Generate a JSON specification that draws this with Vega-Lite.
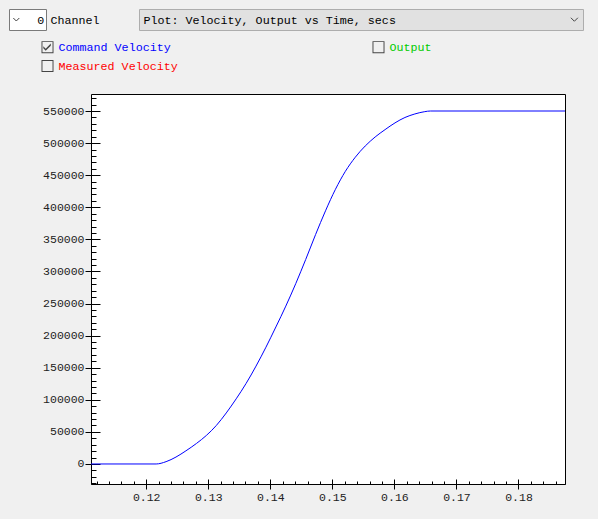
{
  "$schema": "https://vega.github.io/schema/vega-lite/v6.json",
  "background": "#f0f0f0",
  "padding": {"left": 8, "top": 8, "right": 16, "bottom": 16},
  "columns": 1,
  "spacing": 9,
  "resolve": {"scale": {"color": "independent"}, "legend": {"color": "independent"}},
  "config": {
    "view": {"stroke": null},
    "font": "Liberation Mono",
    "axis": {"labelFont": "Liberation Mono", "labelFontSize": 11.5, "labelColor": "#222222", "domainColor": "#000000", "tickColor": "#000000", "domainWidth": 1, "tickWidth": 1, "grid": false}
  },
  "datasets": {
    "velocity": [
      {"t": 0.1111, "v": 0, "series": "Command Velocity"},
      {"t": 0.1216, "v": 0, "series": "Command Velocity"},
      {"t": 0.1232, "v": 3600, "series": "Command Velocity"},
      {"t": 0.1248, "v": 10800, "series": "Command Velocity"},
      {"t": 0.1264, "v": 20500, "series": "Command Velocity"},
      {"t": 0.1281, "v": 32000, "series": "Command Velocity"},
      {"t": 0.1297, "v": 44500, "series": "Command Velocity"},
      {"t": 0.1313, "v": 60000, "series": "Command Velocity"},
      {"t": 0.1329, "v": 79500, "series": "Command Velocity"},
      {"t": 0.1345, "v": 101500, "series": "Command Velocity"},
      {"t": 0.1361, "v": 125500, "series": "Command Velocity"},
      {"t": 0.1377, "v": 152500, "series": "Command Velocity"},
      {"t": 0.1393, "v": 182000, "series": "Command Velocity"},
      {"t": 0.1409, "v": 213500, "series": "Command Velocity"},
      {"t": 0.1425, "v": 246000, "series": "Command Velocity"},
      {"t": 0.1441, "v": 281000, "series": "Command Velocity"},
      {"t": 0.1457, "v": 318500, "series": "Command Velocity"},
      {"t": 0.1473, "v": 357500, "series": "Command Velocity"},
      {"t": 0.1489, "v": 394500, "series": "Command Velocity"},
      {"t": 0.1505, "v": 428000, "series": "Command Velocity"},
      {"t": 0.1521, "v": 456000, "series": "Command Velocity"},
      {"t": 0.1537, "v": 478000, "series": "Command Velocity"},
      {"t": 0.1553, "v": 495500, "series": "Command Velocity"},
      {"t": 0.1569, "v": 509500, "series": "Command Velocity"},
      {"t": 0.1585, "v": 521000, "series": "Command Velocity"},
      {"t": 0.1601, "v": 531500, "series": "Command Velocity"},
      {"t": 0.1617, "v": 539900, "series": "Command Velocity"},
      {"t": 0.1633, "v": 545400, "series": "Command Velocity"},
      {"t": 0.1649, "v": 549000, "series": "Command Velocity"},
      {"t": 0.1658, "v": 550000, "series": "Command Velocity"},
      {"t": 0.1875, "v": 550000, "series": "Command Velocity"}
    ]
  },
  "concat": [
    {
      "spacing": 38,
      "hconcat": [
        {
          "spacing": 3,
          "hconcat": [
            {
              "width": 37,
              "height": 21,
              "view": {"stroke": "#7a7a7a", "fill": "#ffffff"},
              "data": {"values": [{"part": "arrow", "text": ""}, {"part": "value", "text": "0"}]},
              "encoding": {
                "x": {"field": "part", "type": "nominal", "scale": {"type": "point", "domain": ["arrow", "value"], "padding": 0.255, "align": 0.584}, "axis": null}
              },
              "layer": [
                {
                  "transform": [{"filter": "datum.part === 'value'"}],
                  "mark": {"type": "text", "font": "Liberation Mono", "fontSize": 11.7, "color": "#000000"},
                  "encoding": {"text": {"field": "text"}}
                },
                {
                  "transform": [{"filter": "datum.part === 'arrow'"}],
                  "mark": {"type": "point", "shape": "M-1,-0.5L0,0.5L1,-0.5", "size": 36, "filled": false, "color": "#444444", "strokeWidth": 1, "opacity": 1}
                }
              ]
            },
            {
              "width": 50,
              "height": 21,
              "data": {"values": [{"text": "Channel"}]},
              "mark": {"type": "text", "font": "Liberation Mono", "fontSize": 11.7, "color": "#000000"},
              "encoding": {"text": {"field": "text"}}
            }
          ]
        },
        {
          "width": 444,
          "height": 21,
          "view": {"stroke": "#adadad", "fill": "#e1e1e1"},
          "data": {"values": [{"part": "label", "text": "Plot: Velocity, Output vs Time, secs"}, {"part": "arrow", "text": ""}]},
          "encoding": {
            "x": {"field": "part", "type": "nominal", "scale": {"type": "point", "domain": ["label", "arrow"], "padding": 0.0151, "align": 0.338}, "axis": null}
          },
          "layer": [
            {
              "transform": [{"filter": "datum.part === 'label'"}],
              "mark": {"type": "text", "align": "left", "font": "Liberation Mono", "fontSize": 11.7, "color": "#000000"},
              "encoding": {"text": {"field": "text"}}
            },
            {
              "transform": [{"filter": "datum.part === 'arrow'"}],
              "mark": {"type": "point", "shape": "M-1,-0.5L0,0.5L1,-0.5", "size": 49, "filled": false, "color": "#444444", "strokeWidth": 1, "opacity": 1}
            }
          ]
        }
      ]
    },
    {
      "spacing": 0,
      "bounds": "flush",
      "resolve": {"scale": {"color": "independent"}, "legend": {"color": "independent"}},
      "hconcat": [
        {
          "width": 82,
          "height": 390,
          "data": {"name": "velocity"},
          "mark": {"type": "point", "opacity": 0},
          "encoding": {
            "y": {"field": "v", "type": "quantitative", "scale": {"domain": [-31200, 576500], "nice": false, "zero": false},
              "axis": {"orient": "left", "offset": -82, "domain": false, "values": [0, 50000, 100000, 150000, 200000, 250000, 300000, 350000, 400000, 450000, 500000, 550000], "format": "d", "tickSize": 6, "labelPadding": 1, "labelFlush": false, "labelOverlap": false, "title": null}}
          }
        },
        {
          "width": 474,
          "height": 390,
          "view": {"stroke": "#000000", "fill": "#ffffff"},
          "data": {"name": "velocity"},
          "resolve": {"axis": {"x": "independent", "y": "independent"}},
          "layer": [
            {
              "mark": {"type": "line", "strokeWidth": 1, "interpolate": "monotone"},
              "encoding": {
                "x": {"field": "t", "type": "quantitative", "scale": {"domain": [0.1111, 0.1875], "nice": false, "zero": false},
                  "axis": {"orient": "bottom", "values": [0.12, 0.13, 0.14, 0.15, 0.16, 0.17, 0.18], "format": ".2f", "tickSize": 5, "labelPadding": 2, "labelFlush": false, "labelOverlap": false, "title": null}},
                "y": {"field": "v", "type": "quantitative", "scale": {"domain": [-31200, 576500], "nice": false, "zero": false}, "axis": null},
                "color": {"field": "series", "type": "nominal",
                  "scale": {"domain": ["Command Velocity", "Output", "Measured Velocity"], "range": ["#0000ff", "#00cc00", "#ff0000"]},
                  "legend": {
                    "title": null, "orient": "none", "legendX": -49.5, "legendY": -53, "columns": 2, "direction": "horizontal",
                    "columnPadding": 194, "rowPadding": 6, "padding": 0, "gridAlign": "each",
                    "labelFont": "Liberation Mono", "labelFontSize": 11.7, "labelOffset": 5, "labelLimit": 0, "symbolSize": 144,
                    "encode": {
                      "symbols": {"update": {
                        "shape": {"signal": "datum.value === 'Command Velocity' ? 'M-1,-1H1V1H-1Z M-0.84,-0.84V0.84H0.84V-0.84Z M-0.7,-0.15L-0.3,0.25L0.55,-0.6L0.55,-0.25L-0.3,0.6L-0.7,0.2Z' : 'M-1,-1H1V1H-1Z M-0.84,-0.84V0.84H0.84V-0.84Z'"},
                        "fill": {"value": "#444444"}, "stroke": {"value": "transparent"}, "strokeWidth": {"value": 0}, "opacity": {"value": 1}, "fillOpacity": {"value": 1}
                      }},
                      "labels": {"update": {"fill": {"signal": "datum.value === 'Command Velocity' ? '#0000ff' : datum.value === 'Output' ? '#00cc00' : '#ff0000'"}}}
                    }
                  }}
              }
            },
            {
              "mark": {"type": "line", "opacity": 0},
              "encoding": {
                "x": {"field": "t", "type": "quantitative",
                  "axis": {"orient": "bottom", "values": [0.112, 0.114, 0.116, 0.118, 0.122, 0.124, 0.126, 0.128, 0.132, 0.134, 0.136, 0.138, 0.142, 0.144, 0.146, 0.148, 0.152, 0.154, 0.156, 0.158, 0.162, 0.164, 0.166, 0.168, 0.172, 0.174, 0.176, 0.178, 0.182, 0.184, 0.186], "tickSize": -3, "labels": false, "domain": false, "title": null, "minExtent": 0, "maxExtent": 0}},
                "y": {"field": "v", "type": "quantitative",
                  "axis": {"orient": "left", "values": [-30000, -20000, -10000, 10000, 20000, 30000, 40000, 60000, 70000, 80000, 90000, 110000, 120000, 130000, 140000, 160000, 170000, 180000, 190000, 210000, 220000, 230000, 240000, 260000, 270000, 280000, 290000, 310000, 320000, 330000, 340000, 360000, 370000, 380000, 390000, 410000, 420000, 430000, 440000, 460000, 470000, 480000, 490000, 510000, 520000, 530000, 540000, 560000, 570000], "tickSize": -5, "labels": false, "domain": false, "title": null, "minExtent": 0, "maxExtent": 0}}
              }
            },
            {
              "mark": {"type": "line", "opacity": 0},
              "encoding": {
                "x": {"field": "t", "type": "quantitative",
                  "axis": {"orient": "bottom", "values": [0.12, 0.13, 0.14, 0.15, 0.16, 0.17, 0.18], "tickSize": -5, "labels": false, "domain": false, "title": null, "minExtent": 0, "maxExtent": 0}},
                "y": {"field": "v", "type": "quantitative",
                  "axis": {"orient": "left", "values": [0, 50000, 100000, 150000, 200000, 250000, 300000, 350000, 400000, 450000, 500000, 550000], "tickSize": -9, "labels": false, "domain": false, "title": null, "minExtent": 0, "maxExtent": 0}}
              }
            }
          ]
        }
      ]
    }
  ]
}
